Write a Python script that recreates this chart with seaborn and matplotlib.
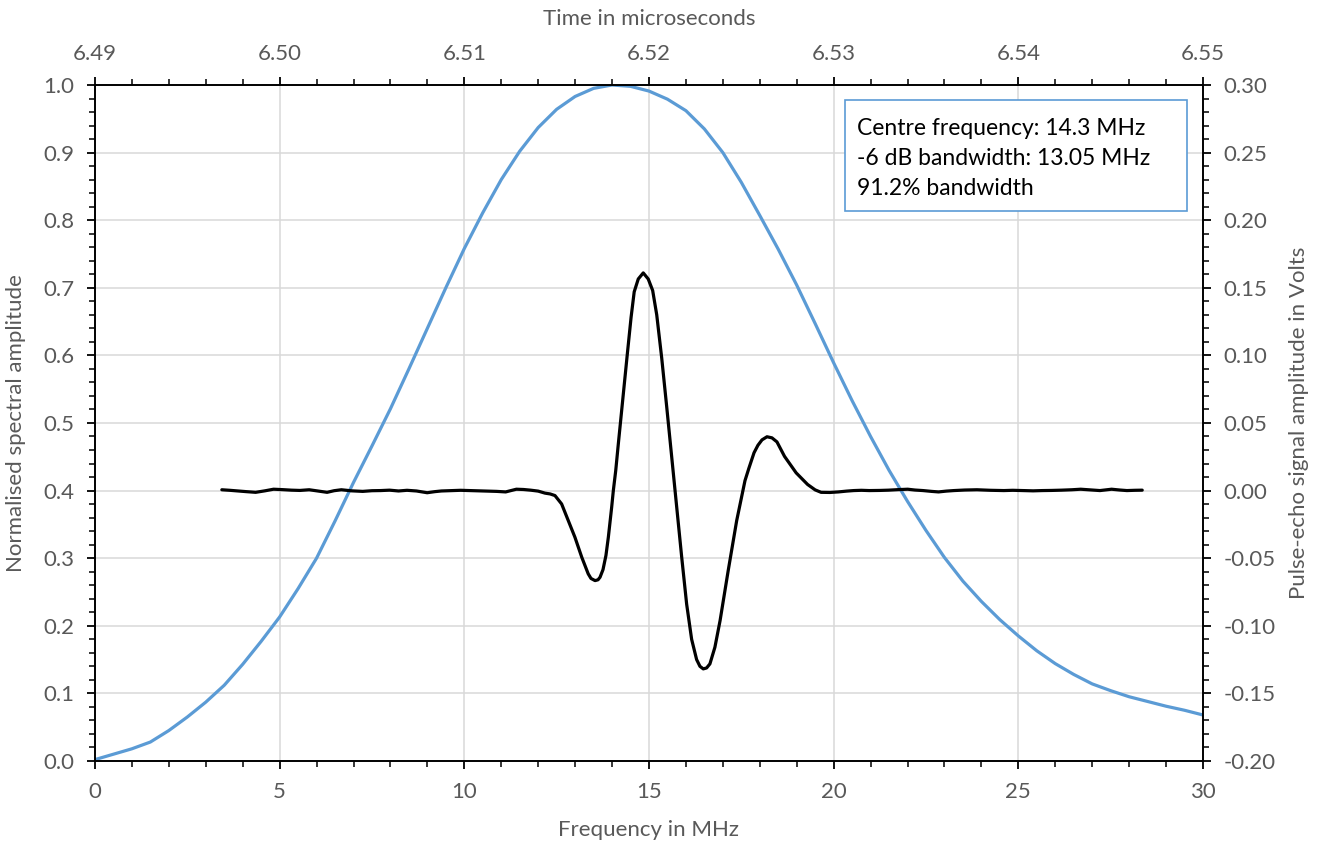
import numpy as np
import pandas as pd
import seaborn as sns
import matplotlib.pyplot as plt
from matplotlib.ticker import MultipleLocator, FormatStrFormatter
from matplotlib.patches import Rectangle

# --- DATA ---
# Normalised amplitude spectrum vs frequency (bottom / left axes)
freq_mhz = [0, 0.5, 1, 1.5, 2, 2.5, 3, 3.5, 4, 4.5, 5, 5.5, 6, 6.5, 7, 7.5,
            8, 8.5, 9, 9.5, 10, 10.5, 11, 11.5, 12, 12.5, 13, 13.5, 14, 14.5,
            15, 15.5, 16, 16.5, 17, 17.5, 18, 18.5, 19, 19.5, 20, 20.5, 21,
            21.5, 22, 22.5, 23, 23.5, 24, 24.5, 25, 25.5, 26, 26.5, 27, 27.5,
            28, 28.5, 29, 29.5, 30]
spectrum = [0.002, 0.010, 0.018, 0.028, 0.045, 0.065, 0.087, 0.112, 0.143,
            0.177, 0.213, 0.255, 0.300, 0.355, 0.412, 0.466, 0.521, 0.580,
            0.640, 0.700, 0.758, 0.811, 0.860, 0.902, 0.937, 0.964, 0.983,
            0.995, 1.000, 0.998, 0.991, 0.979, 0.962, 0.935, 0.900, 0.856,
            0.807, 0.757, 0.704, 0.647, 0.589, 0.533, 0.480, 0.430, 0.384,
            0.341, 0.301, 0.266, 0.236, 0.209, 0.185, 0.163, 0.144, 0.128,
            0.114, 0.104, 0.095, 0.088, 0.081, 0.075, 0.068]

# Pulse-echo signal vs time (top / right axes)
time_us = [6.49687, 6.49730, 6.49774, 6.49820, 6.49870, 6.49920, 6.49967,
           6.50015, 6.50064, 6.50110, 6.50160, 6.50210, 6.50257, 6.50295,
           6.50334, 6.50390, 6.50450, 6.50500, 6.50547, 6.50595, 6.50644,
           6.50690, 6.50741, 6.50799, 6.50840, 6.50876, 6.50934, 6.50980,
           6.51031, 6.51080, 6.51127, 6.51175, 6.51224, 6.51282, 6.51320,
           6.51359, 6.51400, 6.51437, 6.51465, 6.51491, 6.51527, 6.51563,
           6.51599, 6.51636, 6.51671, 6.51686, 6.51708, 6.51724, 6.51735,
           6.51751, 6.51767, 6.51780, 6.51798, 6.51807, 6.51820, 6.51834,
           6.51861, 6.51882, 6.51903, 6.51920, 6.51942, 6.51969, 6.51996,
           6.52020, 6.52042, 6.52069, 6.52096, 6.52123, 6.52150, 6.52177,
           6.52204, 6.52231, 6.52258, 6.52276, 6.52294, 6.52312, 6.52330,
           6.52357, 6.52385, 6.52429, 6.52475, 6.52520, 6.52541, 6.52569,
           6.52590, 6.52612, 6.52639, 6.52666, 6.52693, 6.52734, 6.52797,
           6.52859, 6.52900, 6.52932, 6.52980, 6.53026, 6.53070, 6.53109,
           6.53150, 6.53193, 6.53250, 6.53297, 6.53350, 6.53401, 6.53440,
           6.53484, 6.53530, 6.53568, 6.53610, 6.53651, 6.53710, 6.53776,
           6.53850, 6.53922, 6.53970, 6.54026, 6.54080, 6.54130, 6.54180,
           6.54234, 6.54290, 6.54338, 6.54390, 6.54442, 6.54505, 6.54550,
           6.54588, 6.54630, 6.54671]
signal_v = [0.0006, 0.0002, -0.0003, -0.0008, -0.0013, -0.0002, 0.0010,
            0.0007, 0.0003, 0.0001, 0.0006, -0.0004, -0.0013, -0.0001,
            0.0006, -0.0002, -0.0006, -0.0001, 0.0000, 0.0003, -0.0003,
            0.0002, -0.0003, -0.0016, -0.0008, -0.0003, 0.0000, 0.0002,
            0.0000, -0.0002, -0.0003, -0.0006, -0.0010, 0.0010, 0.0008,
            0.0003, -0.0004, -0.0019, -0.0025, -0.0037, -0.0099, -0.0222,
            -0.0345, -0.0493, -0.0616, -0.0650, -0.0666, -0.0660, -0.0641,
            -0.0585, -0.0480, -0.0345, -0.0123, 0.0000, 0.0148, 0.0345,
            0.0715, 0.1000, 0.1280, 0.1470, 0.1565, 0.1610, 0.1565,
            0.1480, 0.1300, 0.0980, 0.0620, 0.0250, -0.0120, -0.0490,
            -0.0840, -0.1100, -0.1250, -0.1300, -0.1319, -0.1312, -0.1282,
            -0.1159, -0.0962, -0.0592, -0.0222, 0.0074, 0.0165, 0.0280,
            0.0335, 0.0375, 0.0398, 0.0390, 0.0360, 0.0253, 0.0131,
            0.0045, 0.0005, -0.0013, -0.0014, -0.0010, -0.0004, 0.0000,
            0.0002, 0.0000, 0.0001, 0.0003, 0.0007, 0.0010, 0.0004,
            0.0000, -0.0006, -0.0010, -0.0004, 0.0000, 0.0004, 0.0006,
            0.0002, 0.0000, 0.0002, 0.0000, -0.0002, 0.0000, 0.0001,
            0.0003, 0.0006, 0.0010, 0.0005, 0.0000, 0.0010, 0.0004,
            0.0000, 0.0002, 0.0003]

info_lines = ["Centre frequency: 14.3 MHz",
              "-6 dB bandwidth: 13.05 MHz",
              "91.2% bandwidth"]

BLUE = "#5B9BD5"
GREY = "#595959"

sns.set_theme(style="white")
plt.rcParams['font.family'] = ['Lato', 'DejaVu Sans']
plt.rcParams['axes.unicode_minus'] = False

fig = plt.figure(figsize=(13.3, 8.49), dpi=100)
rect = [0.0714, 0.1037, 0.8331, 0.7962]
ax = fig.add_axes(rect)
ax2 = fig.add_axes(rect, frameon=False)

spec_df = pd.DataFrame({"freq": freq_mhz, "amp": spectrum})
sig_df = pd.DataFrame({"time": time_us, "volts": signal_v})

sns.lineplot(data=spec_df, x="freq", y="amp", ax=ax, color=BLUE, lw=2.3,
             solid_joinstyle='round', solid_capstyle='round')
sns.lineplot(data=sig_df, x="time", y="volts", ax=ax2, color="black", lw=2.3,
             solid_joinstyle='round', solid_capstyle='round')

# bottom / left axes
ax.set_xlim(0, 30)
ax.set_ylim(0, 1.0)
ax.xaxis.set_major_locator(MultipleLocator(5))
ax.xaxis.set_minor_locator(MultipleLocator(1))
ax.yaxis.set_major_locator(MultipleLocator(0.1))
ax.yaxis.set_minor_locator(MultipleLocator(0.02))
ax.yaxis.set_major_formatter(FormatStrFormatter('%.1f'))
ax.grid(True, which='major', color='#D9D9D9', lw=1.1)
for s in ax.spines.values():
    s.set_color('black')
    s.set_linewidth(1.4)
ax.tick_params(which='both', direction='out', colors='black', labelcolor=GREY,
               labelsize=16, top=False, right=False, bottom=True, left=True)
ax.tick_params(which='major', length=6, width=1.3, pad=9)
ax.tick_params(which='minor', length=4, width=1.1)
ax.set_xlabel("Frequency in MHz", fontsize=16, color=GREY)
ax.set_ylabel("Normalised spectral amplitude", fontsize=16, color=GREY)
ax.xaxis.set_label_coords(0.5, -0.088)
ax.yaxis.set_label_coords(-0.062, 0.5)

# top / right axes
ax2.set_xlim(6.49, 6.55)
ax2.set_ylim(-0.20, 0.30)
ax2.xaxis.tick_top()
ax2.yaxis.tick_right()
ax2.xaxis.set_label_position('top')
ax2.yaxis.set_label_position('right')
ax2.xaxis.set_major_locator(MultipleLocator(0.01))
ax2.xaxis.set_minor_locator(MultipleLocator(0.002))
ax2.yaxis.set_major_locator(MultipleLocator(0.05))
ax2.yaxis.set_minor_locator(MultipleLocator(0.01))
ax2.xaxis.set_major_formatter(FormatStrFormatter('%.2f'))
ax2.yaxis.set_major_formatter(FormatStrFormatter('%.2f'))
ax2.tick_params(which='both', direction='out', colors='black', labelcolor=GREY,
                labelsize=16)
ax2.tick_params(which='major', length=6, width=1.3, pad=9)
ax2.tick_params(which='minor', length=4, width=1.1)
ax2.set_xlabel("Time in microseconds", fontsize=16, color=GREY)
ax2.set_ylabel("Pulse-echo signal amplitude in Volts", fontsize=16, color=GREY)
ax2.xaxis.set_label_coords(0.5, 1.088)
ax2.yaxis.set_label_coords(1.078, 0.5)

# info box
ax2.add_patch(Rectangle((0.677, 0.8136), 0.3087, 0.1642, transform=ax2.transAxes,
                        facecolor='white', edgecolor=BLUE, lw=1.2, zorder=5))
for i, line in enumerate(info_lines):
    ax2.text(0.6877, 0.9350 - i * 0.0444, line, transform=ax2.transAxes,
             fontsize=16.5, color='black', va='center', ha='left', zorder=6)

fig.savefig("out.png", dpi=100)
